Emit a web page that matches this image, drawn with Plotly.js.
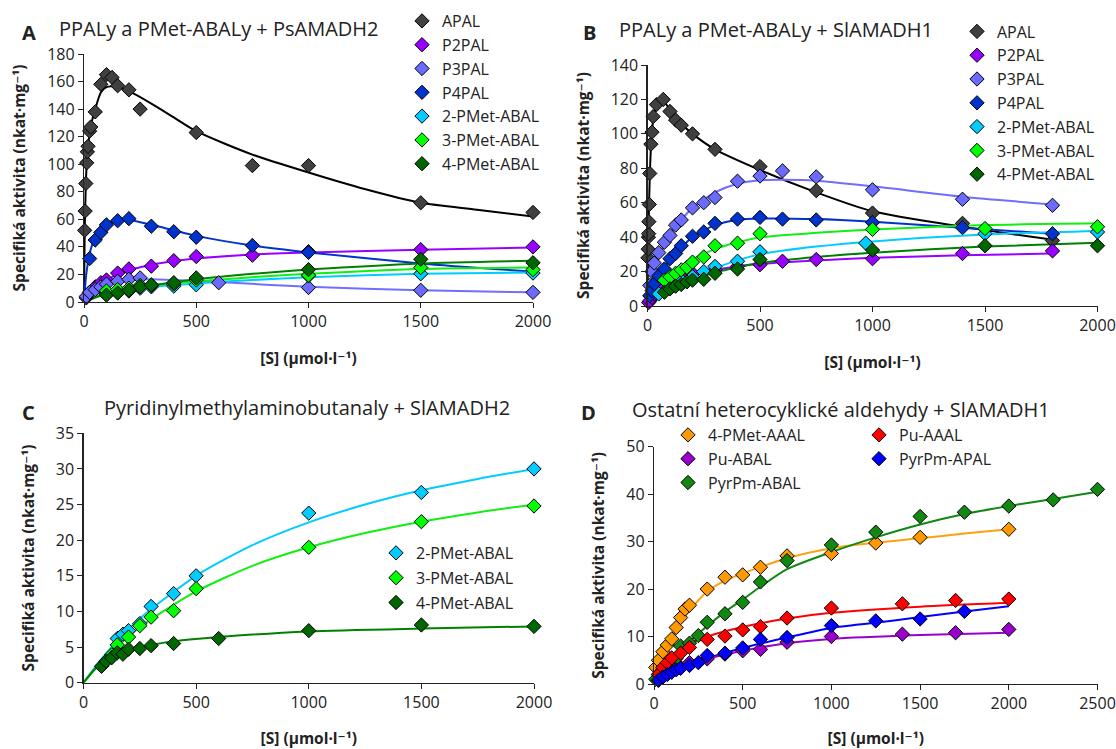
<!DOCTYPE html>
<html><head><meta charset="utf-8">
<script src="https://cdn.plot.ly/plotly-3.0.1.min.js"></script>
<style>html,body{margin:0;padding:0;background:#fff}#chart{width:1116px;height:749px}</style>
</head><body><div id="chart"></div>
<script>
// ---------- Panel A: PPALy a PMet-ABALy + PsAMADH2 ----------
const A_APAL_x = [3,5,8,12,15,18,25,30,50,75,100,125,150,200,250,500,750,1000,1500,2000];
const A_APAL_y = [52,66,86,101,109,113,124,127,138,158,165,163,157,154,140,123,99,99,72,65];
const A_APAL_fx = [0,3,5,8,12,18,25,35,50,75,100,150,200,300,400,500,750,1000,1250,1500,1750,2000];
const A_APAL_fy = [0,50,65,85,100,112,122,131,140,152,156,156,153,144,134,124,107,94,82,72,67,62];
const A_P2PAL_x = [10,25,50,75,100,150,200,300,400,500,750,1000,1500,2000];
const A_P2PAL_y = [3,7,11,14,16,21,24,26,30,33,34,36.5,38,40];
const A_P2PAL_fx = [0,50,100,150,200,300,400,500,750,1000,1500,2000];
const A_P2PAL_fy = [0,10,16,20,23,27,29.5,31.5,34.5,36,38,39.5];
const A_P3PAL_x = [10,25,50,75,100,150,200,250,600,1000,1500,2000];
const A_P3PAL_y = [4,7,9,11,13,15,16.5,17.5,14,10.5,8.5,7];
const A_P3PAL_fx = [0,20,50,100,150,200,300,400,600,1000,1500,2000];
const A_P3PAL_fy = [0,5,9,13,15,16,16.5,16,14.5,11,8.5,7];
const A_P4PAL_x = [25,50,75,100,150,200,300,400,500,750,1000];
const A_P4PAL_y = [31.5,45,50.5,56,59,60.5,55,51,47,41,36];
const A_P4PAL_fx = [0,10,25,50,100,150,200,300,400,500,750,1000,1500,2000];
const A_P4PAL_fy = [0,20,35,47,56,59,59.5,56,52,48,41,36,28,22];
const A_PM_x = [100,150,200,250,300,400,500,1000,1500,2000];
const A_2PM_y = [6,7,8,10,11,11.5,12.5,19,20.5,21];
const A_3PM_y = [8,9,10,12,12,13,16,19.5,25,23.5];
const A_4PM_y = [5,6.5,8.5,11,12.5,14,17.5,23.5,31,28.5];
const A_PM_fx = [0,100,200,300,500,750,1000,1500,2000];
const A_2PM_fy = [0,7,9.5,11,13.5,16,18,20.5,21.5];
const A_3PM_fy = [0,7,10,12,15,18,20.5,24,25];
const A_4PM_fy = [0,6,9,12,16.5,20.5,23.5,28,30];

// ---------- Panel B: PPALy a PMet-ABALy + SlAMADH1 ----------
const B_APAL_x = [2,3,4,5,6,8,10,15,20,25,40,70,100,125,150,200,300,500,750,1000,1400,1800];
const B_APAL_y = [28,33,40,42,49,59,77,94,101,110,117,120,113,108,105,100,91,81,67,54,48,38];
const B_APAL_fx = [0,2,5,10,15,20,30,45,70,100,150,200,300,500,750,1000,1400,1800];
const B_APAL_fy = [0,25,48,75,92,102,112,118,119,114,106,100,91,79,66,55,46,38.5];
const B_P2PAL_x = [5,10,20,30,50,75,100,150,200,300,400,500,600,750,1000,1400,1800];
const B_P2PAL_y = [2,3,5,7,9,12,14,17,19,21,23,24,26,27,27.5,30.5,32];
const B_P2PAL_fx = [0,50,100,200,300,400,500,750,1000,1400,1800];
const B_P2PAL_fy = [0,9,14,18.5,21,23,24.5,26.5,28,29.5,30.5];
const B_P3PAL_x = [10,20,30,50,75,100,125,150,200,250,300,400,500,600,750,1000,1400,1800];
const B_P3PAL_y = [12,20,25,31,37,41,47,50,57,60,63,72.5,75.5,78.5,75,67.5,62,58.5];
const B_P3PAL_fx = [0,25,50,100,150,200,300,400,500,600,750,1000,1400,1800];
const B_P3PAL_fy = [0,18,28,42,50,57,66,71,73,73.3,72.8,69.5,63.5,59];
const B_P4PAL_x = [10,20,30,50,75,100,125,150,200,250,300,400,500,600,750,1000,1400,1800];
const B_P4PAL_y = [6,9,13,17.5,21.5,27.5,30.5,35,40.5,43,48,50.5,51.5,50.5,50,48.5,45.5,42];
const B_P4PAL_fx = [0,50,100,150,200,300,400,500,750,1000,1400,1800];
const B_P4PAL_fy = [0,17,27,34,40,47,50,50.8,50.5,49,45.5,42];
const B_2PM_x = [50,100,150,200,250,300,400,500,970,1500,2000];
const B_2PM_y = [7,12,15,17,20,23,26,31.5,36.5,42,43];
const B_PM34_x = [75,100,125,150,175,200,250,300,400,500,1000,1500,2000];
const B_3PM_y = [15,17,19,21,22.5,25.5,28.5,35,36.5,42,44.5,45,46];
const B_4PM_y = [8,10,11.5,12.5,14,15,15.5,19,21.5,27,32.5,35,35];
const B_PM_fx = [0,100,200,300,400,500,750,1000,1500,2000];
const B_2PM_fy = [0,10,17,22,26.5,30,34.5,37.5,41.5,43.5];
const B_3PM_fy = [0,17,27,33,37,39.8,42.5,44.5,47,48];
const B_4PM_fy = [0,9,15.5,19.5,22.5,25,28.5,31,34.5,36.8];

// ---------- Panel C: Pyridinylmethylaminobutanaly + SlAMADH2 ----------
const C_2PM_x = [150,175,200,250,300,400,500,1000,1500,2000];
const C_2PM_y = [6.2,6.8,7.3,8.3,10.7,12.5,15,23.8,26.7,30];
const C_3PM_x = [125,150,200,250,300,400,500,1000,1500,2000];
const C_3PM_y = [3.9,5.3,6.4,8,9.2,10.1,13.2,19,22.6,24.8];
const C_4PM_x = [80,100,125,150,175,200,250,300,400,600,1000,1500,2000];
const C_4PM_y = [2.3,3,3.5,4.2,4,4.7,4.8,5.2,5.5,6.2,7.3,8.1,7.9];
const C_fx = [0,100,250,500,750,1000,1250,1500,1750,2000];
const C_2PM_fy = [0,4.1,9,15,19.3,22.5,25,27,28.6,30];
const C_3PM_fy = [0,3.6,7.8,12.8,16.4,19,21,22.6,23.9,25];
const C_4PM_fx = [0,50,100,200,300,400,600,1000,1500,2000];
const C_4PM_fy = [0,1.9,3.1,4.5,5.3,5.8,6.4,7.2,7.6,7.9];

// ---------- Panel D: Ostatní heterocyklické aldehydy + SlAMADH1 ----------
const D_4PMAAAL_x = [10,25,50,75,100,125,150,175,200,300,400,500,600,750,1000,1250,1500,2000];
const D_4PMAAAL_y = [3.5,5,6.8,8.2,9.5,11.9,14,15.8,16.6,20,22.5,23,24.6,27,27.5,29.7,30.9,32.6];
const D_4PMAAAL_fx = [0,25,50,100,150,200,300,400,500,750,1000,1250,1500,1750,2000];
const D_4PMAAAL_fy = [0,3,5.5,9.5,13,15.5,19.5,21.8,23.3,26.5,28.6,29.8,30.7,31.7,32.6];
const D_PuAAAL_x = [25,50,75,100,150,200,300,400,500,600,750,1000,1400,1700,2000];
const D_PuAAAL_y = [2,3.5,4.5,5.5,6.5,7.7,9.4,10.1,11.4,12.1,13.9,16,16.9,17.6,17.9];
const D_PuAAAL_fx = [0,50,100,200,300,500,750,1000,1500,2000];
const D_PuAAAL_fy = [0,3.8,6,8.5,10,12,13.8,15,16.3,17.1];
const D_PuABAL_x = [25,50,100,150,200,300,400,500,600,750,1000,1400,1700,2000];
const D_PuABAL_y = [0.8,1.5,2.5,3.5,4.5,5.3,6.3,7,7.3,8.8,10,10.5,10.8,11.5];
const D_PuABAL_fx = [0,100,200,300,500,750,1000,1500,2000];
const D_PuABAL_fy = [0,2.5,4.2,5.3,7,8.6,9.5,10.3,10.8];
const D_PyrAPAL_x = [25,50,75,100,125,150,200,250,300,400,500,600,750,1000,1250,1500,1750];
const D_PyrAPAL_y = [0.8,1.5,2,2.5,3,3.3,3.9,4.5,6,6.5,7.6,9.4,9.8,12.3,13.3,13.7,15.3];
const D_PyrAPAL_fx = [0,100,200,300,500,750,1000,1250,1500,1750,2000];
const D_PyrAPAL_fy = [0,2.3,4,5.4,7.6,9.8,11.8,12.9,14.1,15.3,16.4];
const D_PyrABAL_x = [10,25,50,75,100,125,150,200,250,300,400,500,600,750,1000,1250,1500,1750,2000,2250,2500];
const D_PyrABAL_y = [1,2,3,4.3,5,5.4,8,8.6,10.2,13,14.8,17.2,21.5,26,29.3,32,35.3,36.2,37.5,38.8,41];
const D_PyrABAL_fx = [0,50,100,200,300,400,500,600,750,1000,1250,1500,1750,2000,2250,2500];
const D_PyrABAL_fy = [0,2.6,5,8.9,12.2,15.2,17.8,20.5,24.2,27.8,30.9,33.6,35.8,37.5,39,40.5];

// ---------- styles ----------
const C = {
  APAL:['#404040','#000000'], P2PAL:['#9900ff','#9900ff'], P3PAL:['#6b6bff','#6f6fff'],
  P4PAL:['#0033cc','#0033cc'], PM2:['#00ccff','#00ccff'], PM3:['#00ff00','#11ee11'],
  PM4:['#006600','#008000'], ORA:['#ff9900','#ffa010'], RED:['#ff0000','#ff0000'],
  PUR:['#9900cc','#9900cc'], BLU:['#0000ff','#0000ff'], GRN:['#118811','#118811']
};
const FONT = '"Open Sans", "DejaVu Sans", sans-serif';
const traces = [];
const markerTraces = [];
function fit(x, y, col, ax) {
  traces.push({x:x, y:y, xaxis:'x'+ax, yaxis:'y'+ax, mode:'lines', showlegend:false, hoverinfo:'skip',
    line:{color:col[1], width:2, shape:'spline', smoothing:0.7}});
}
function pts(name, x, y, col, ax, leg) {
  markerTraces.push({x:x, y:y, name:name, xaxis:'x'+ax, yaxis:'y'+ax, mode:'markers', legend:leg,
    legendgroup:name+ax, cliponaxis:false,
    marker:{symbol:'diamond', size:11, color:col[0], line:{color:'#000', width:1}}});
}
// A
fit(A_APAL_fx,A_APAL_fy,C.APAL,''); fit(A_P2PAL_fx,A_P2PAL_fy,C.P2PAL,''); fit(A_P3PAL_fx,A_P3PAL_fy,C.P3PAL,'');
fit(A_P4PAL_fx,A_P4PAL_fy,C.P4PAL,''); fit(A_PM_fx,A_2PM_fy,C.PM2,''); fit(A_PM_fx,A_3PM_fy,C.PM3,''); fit(A_PM_fx,A_4PM_fy,C.PM4,'');
pts('APAL',A_APAL_x,A_APAL_y,C.APAL,'','legend'); pts('P2PAL',A_P2PAL_x,A_P2PAL_y,C.P2PAL,'','legend');
pts('P3PAL',A_P3PAL_x,A_P3PAL_y,C.P3PAL,'','legend'); pts('P4PAL',A_P4PAL_x,A_P4PAL_y,C.P4PAL,'','legend');
pts('2-PMet-ABAL',A_PM_x,A_2PM_y,C.PM2,'','legend'); pts('3-PMet-ABAL',A_PM_x,A_3PM_y,C.PM3,'','legend');
pts('4-PMet-ABAL',A_PM_x,A_4PM_y,C.PM4,'','legend');
// B
fit(B_APAL_fx,B_APAL_fy,C.APAL,'2'); fit(B_P2PAL_fx,B_P2PAL_fy,C.P2PAL,'2'); fit(B_P3PAL_fx,B_P3PAL_fy,C.P3PAL,'2');
fit(B_P4PAL_fx,B_P4PAL_fy,C.P4PAL,'2'); fit(B_PM_fx,B_2PM_fy,C.PM2,'2'); fit(B_PM_fx,B_3PM_fy,C.PM3,'2'); fit(B_PM_fx,B_4PM_fy,C.PM4,'2');
pts('APAL',B_APAL_x,B_APAL_y,C.APAL,'2','legend2'); pts('P2PAL',B_P2PAL_x,B_P2PAL_y,C.P2PAL,'2','legend2');
pts('P3PAL',B_P3PAL_x,B_P3PAL_y,C.P3PAL,'2','legend2'); pts('P4PAL',B_P4PAL_x,B_P4PAL_y,C.P4PAL,'2','legend2');
pts('2-PMet-ABAL',B_2PM_x,B_2PM_y,C.PM2,'2','legend2'); pts('3-PMet-ABAL',B_PM34_x,B_3PM_y,C.PM3,'2','legend2');
pts('4-PMet-ABAL',B_PM34_x,B_4PM_y,C.PM4,'2','legend2');
// C
fit(C_fx,C_2PM_fy,C.PM2,'3'); fit(C_fx,C_3PM_fy,C.PM3,'3'); fit(C_4PM_fx,C_4PM_fy,C.PM4,'3');
pts('2-PMet-ABAL',C_2PM_x,C_2PM_y,C.PM2,'3','legend3'); pts('3-PMet-ABAL',C_3PM_x,C_3PM_y,C.PM3,'3','legend3');
pts('4-PMet-ABAL',C_4PM_x,C_4PM_y,C.PM4,'3','legend3');
// D
fit(D_4PMAAAL_fx,D_4PMAAAL_fy,C.ORA,'4'); fit(D_PyrABAL_fx,D_PyrABAL_fy,C.GRN,'4'); fit(D_PuAAAL_fx,D_PuAAAL_fy,C.RED,'4');
fit(D_PyrAPAL_fx,D_PyrAPAL_fy,C.BLU,'4'); fit(D_PuABAL_fx,D_PuABAL_fy,C.PUR,'4');
pts('4-PMet-AAAL',D_4PMAAAL_x,D_4PMAAAL_y,C.ORA,'4','legend4'); pts('Pu-ABAL',D_PuABAL_x,D_PuABAL_y,C.PUR,'4','legend4');
pts('PyrPm-ABAL',D_PyrABAL_x,D_PyrABAL_y,C.GRN,'4','legend4');
pts('Pu-AAAL',D_PuAAAL_x,D_PuAAAL_y,C.RED,'4','legend5'); pts('PyrPm-APAL',D_PyrAPAL_x,D_PyrAPAL_y,C.BLU,'4','legend5');

const W = 1116, H = 749;
const px = v => v / W, py = v => 1 - v / H;
const XT = '[S] (µmol·l\u207B\u00B9)';
const YT = 'Specifiká aktivita (nkat·mg\u207B\u00B9)';
function xa(d0, d1, anchor, range) {
  return {domain:[px(d0), px(d1)], anchor:anchor, range:range, dtick:500, showgrid:false, zeroline:false,
    showline:true, linecolor:'#222', linewidth:1.2, ticks:'outside', ticklen:5, tickcolor:'#222',
    tickfont:{family:FONT, size:16, color:'#222'},
    title:{text:XT, font:{family:FONT, size:15.5, color:'#222', weight:'bold'}, standoff:21}};
}
function ya(d0, d1, anchor, range, dt) {
  return {domain:[py(d0), py(d1)], anchor:anchor, range:range, dtick:dt, showgrid:false, zeroline:false,
    showline:true, linecolor:'#222', linewidth:1.2, ticks:'outside', ticklen:5, tickcolor:'#222',
    tickfont:{family:FONT, size:16, color:'#222'},
    title:{text:YT, font:{family:FONT, size:15.5, color:'#222', weight:'bold'}, standoff:17}};
}
function leg(x, y, gap) {
  return {x:px(x), y:py(y), xanchor:'left', yanchor:'top', bgcolor:'rgba(0,0,0,0)', borderwidth:0,
    font:{family:FONT, size:16, color:'#222'}, tracegroupgap:gap||0};
}
function ann(text, x, y, size, bold) {
  return {text:text, x:px(x), y:py(y), xref:'paper', yref:'paper',
    xanchor: bold ? 'center' : 'left', yanchor:'middle', showarrow:false,
    font:{family:FONT, size:size, color:'#222', weight: bold ? 'bold' : 'normal'}};
}
const layout = {
  width:W, height:H, margin:{l:0, r:0, t:0, b:0}, paper_bgcolor:'#fff', plot_bgcolor:'#fff',
  font:{family:FONT, color:'#222'},
  xaxis: xa(84, 533, 'y', [0,2000]),   yaxis: ya(302, 54, 'x', [0,180], 20),
  xaxis2: xa(647.5, 1097.5, 'y2', [0,2000]), yaxis2: ya(306, 65, 'x2', [0,140], 20),
  xaxis3: xa(83.5, 534, 'y3', [0,2000]), yaxis3: ya(682.7, 433.3, 'x3', [0,35], 5),
  xaxis4: xa(654, 1097.5, 'y4', [0,2500]), yaxis4: ya(684, 446.7, 'x4', [0,50], 10),
  legend: leg(402, 4), legend2: leg(957, 14.5),
  legend3: leg(376, 536, 1),
  legend4: leg(668, 418), legend5: leg(859, 418),
  annotations: [
    ann('A', 29, 33, 20, true), ann('PPALy a PMet-ABALy + PsAMADH2', 57, 28, 20, false),
    ann('B', 589, 33, 20, true), ann('PPALy a PMet-ABALy + SlAMADH1', 617, 29, 20, false),
    ann('C', 28, 413, 20, true), ann('Pyridinylmethylaminobutanaly + SlAMADH2', 102, 407, 20, false),
    ann('D', 588, 413, 20, true), ann('Ostatní heterocyklické aldehydy + SlAMADH1', 630, 409, 20, false)
  ]
};
Plotly.newPlot('chart', traces.concat(markerTraces), layout, {displayModeBar:false, staticPlot:true});
</script></body></html>
